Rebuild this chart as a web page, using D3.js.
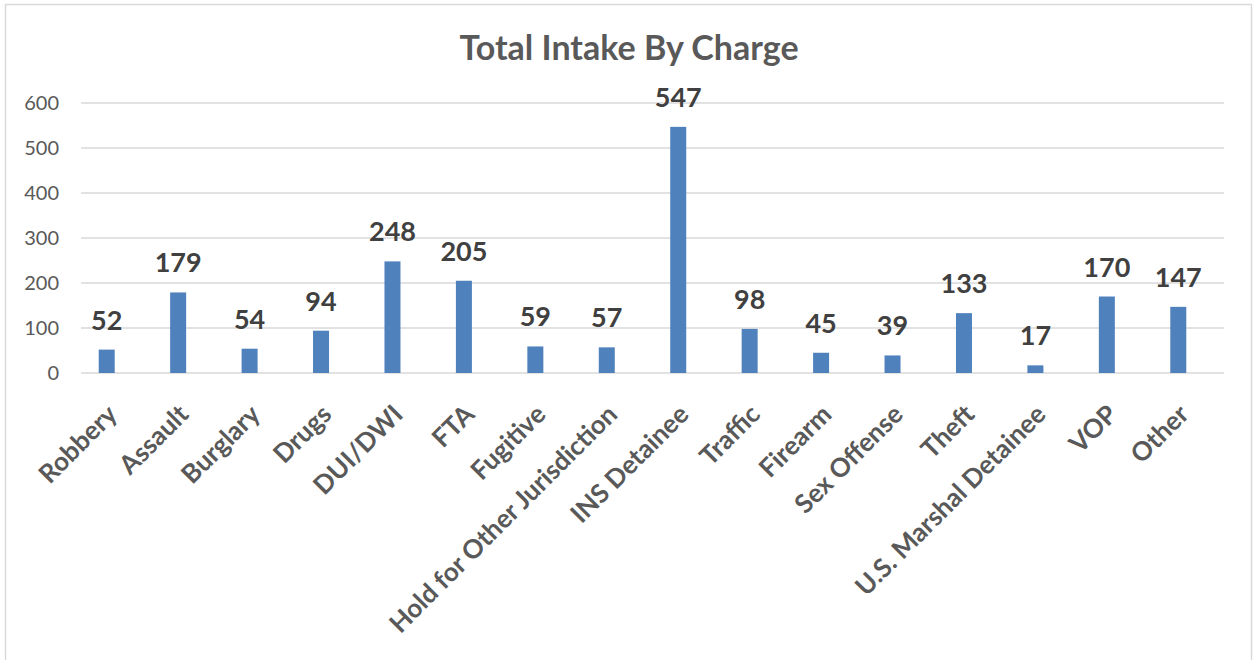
<!DOCTYPE html>
<html>
<head>
<meta charset="utf-8">
<script src="https://cdn.jsdelivr.net/npm/d3@7"></script>
<style>
  html, body { margin: 0; padding: 0; background: #ffffff; }
  svg { display: block; }
</style>
</head>
<body>
<svg id="chart" width="1253" height="660"></svg>
<script>
// Intake counts by charge category
const categories = [
  "Robbery", "Assault", "Burglary", "Drugs", "DUI/DWI", "FTA", "Fugitive",
  "Hold for Other Jurisdiction", "INS Detainee", "Traffic", "Firearm",
  "Sex Offense", "Theft", "U.S. Marshal Detainee", "VOP", "Other"
];
const intake = [52, 179, 54, 94, 248, 205, 59, 57, 547, 98, 45, 39, 133, 17, 170, 147];
const yTicks = [0, 100, 200, 300, 400, 500, 600];
const title = "Total Intake By Charge";

const svg = d3.select("#chart");
const W = 1253, H = 660;

// outer frame
svg.append("rect")
  .attr("x", 5.5).attr("y", 4.5)
  .attr("width", W - 7).attr("height", H + 10)
  .attr("fill", "#ffffff")
  .attr("stroke", "#d9d9d9").attr("stroke-width", 1.5);

const gridLeft = 81, gridRight = 1224;
const y = d3.scaleLinear().domain([0, 600]).range([373, 103]);
const x = d3.scaleBand()
  .domain(categories)
  .range([71, 1214])
  .paddingInner(0.776)
  .paddingOuter(0.388);

// title
svg.append("text")
  .attr("x", 629).attr("y", 60)
  .attr("text-anchor", "middle")
  .attr("font-family", "Lato, 'Open Sans', sans-serif")
  .attr("font-weight", "bold")
  .attr("font-size", 34)
  .attr("fill", "#595959")
  .text(title);

// horizontal gridlines
svg.append("g")
  .selectAll("line")
  .data(yTicks)
  .join("line")
  .attr("x1", gridLeft).attr("x2", gridRight)
  .attr("y1", d => y(d)).attr("y2", d => y(d))
  .attr("stroke", "#d9d9d9").attr("stroke-width", 1.5);

// y axis labels
const yAxis = d3.axisLeft(y).tickValues(yTicks).tickSize(0).tickPadding(0);
const gy = svg.append("g").attr("transform", "translate(59,0)").call(yAxis);
gy.select(".domain").remove();
gy.selectAll("text")
  .attr("font-family", "Lato, 'Open Sans', sans-serif")
  .attr("font-size", 20)
  .attr("fill", "#595959");

// bars
svg.append("g")
  .selectAll("rect")
  .data(categories)
  .join("rect")
  .attr("x", d => x(d))
  .attr("width", x.bandwidth())
  .attr("y", (d, i) => y(intake[i]))
  .attr("height", (d, i) => y(0) - y(intake[i]))
  .attr("fill", "#4f81bd");

// value labels
svg.append("g")
  .selectAll("text")
  .data(categories)
  .join("text")
  .attr("x", d => x(d) + x.bandwidth() / 2)
  .attr("y", (d, i) => y(intake[i]) - 20)
  .attr("text-anchor", "middle")
  .attr("font-family", "Lato, 'Open Sans', sans-serif")
  .attr("font-weight", "bold")
  .attr("font-size", 27)
  .attr("fill", "#404040")
  .text((d, i) => intake[i]);

// rotated category labels
const xAxis = d3.axisBottom(x).tickSize(0).tickPadding(0);
const gx = svg.append("g").attr("transform", "translate(0,373)").call(xAxis);
gx.select(".domain").remove();
gx.selectAll("text")
  .attr("font-family", "Lato, 'Open Sans', sans-serif")
  .attr("font-weight", "bold")
  .attr("font-size", 26)
  .attr("fill", "#595959")
  .attr("text-anchor", "end")
  .attr("dy", null)
  .attr("y", 0)
  .attr("transform", "translate(12,43) rotate(-45)");
</script>
</body>
</html>
